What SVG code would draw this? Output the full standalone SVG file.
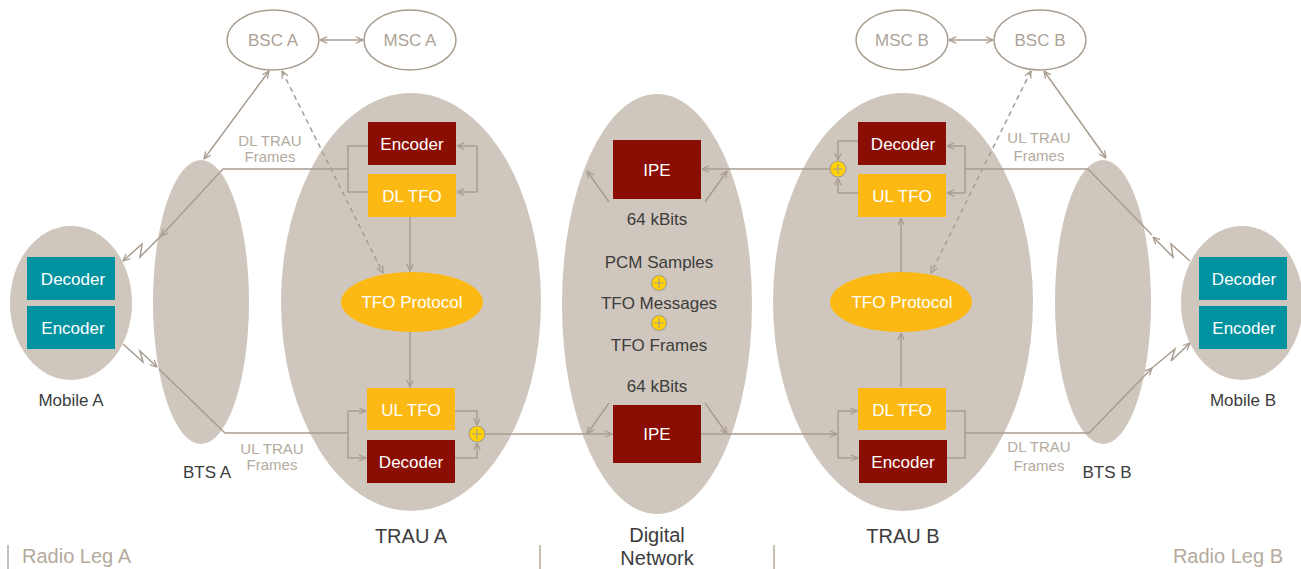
<svg xmlns="http://www.w3.org/2000/svg" width="1301" height="569" viewBox="0 0 1301 569">
<defs>
<style>
.bg{fill:#CFC7BD}
.oval{fill:#fff;stroke:#A89D90;stroke-width:1.5}
.red{fill:#8B0E04}
.yel{fill:#FDB913}
.teal{fill:#00939F}
.ln{fill:none;stroke:#A89D90;stroke-width:1.5}
.dash{stroke-dasharray:5 4}
.wt{font-family:"Liberation Sans",Arial,sans-serif;font-size:17px;fill:#fff;text-anchor:middle;dominant-baseline:central}
.gt{font-family:"Liberation Sans",Arial,sans-serif;font-size:17px;fill:#ADA296;text-anchor:middle;dominant-baseline:central}
.st{font-family:"Liberation Sans",Arial,sans-serif;font-size:15px;fill:#B4AA9E;text-anchor:middle;dominant-baseline:central}
.dt{font-family:"Liberation Sans",Arial,sans-serif;font-size:17px;fill:#3C3C3C;text-anchor:middle;dominant-baseline:central}
.lt{font-family:"Liberation Sans",Arial,sans-serif;font-size:20px;fill:#3C3C3C;text-anchor:middle;dominant-baseline:central}
.leg{font-family:"Liberation Sans",Arial,sans-serif;font-size:20px;fill:#B4AA9E;dominant-baseline:central}
.plus{fill:#FFD200;stroke:#A89D90;stroke-width:1.2}
.pl{stroke:#A89D90;stroke-width:1.2}
</style>
<marker id="ah" viewBox="0 0 8 8" refX="7.5" refY="4" markerWidth="8" markerHeight="8" markerUnits="userSpaceOnUse" orient="auto-start-reverse">
<path d="M0.5,0.8 L7.5,4 L0.5,7.2" fill="none" stroke="#A89D90" stroke-width="1.3"/>
</marker>
</defs>

<g id="mobileA"><ellipse class="bg" cx="71" cy="303" rx="61" ry="77"/>
<rect class="teal" x="27" y="257" width="88" height="43"/><text class="wt" x="73" y="279">Decoder</text>
<rect class="teal" x="27" y="306" width="88" height="43"/><text class="wt" x="73" y="328">Encoder</text>
<text class="dt" x="71" y="400">Mobile A</text></g>

<g id="btsA"><ellipse class="bg" cx="201" cy="302" rx="48" ry="142"/><text class="dt" x="207" y="472">BTS A</text></g>
<g id="trauA"><ellipse class="bg" cx="411" cy="302" rx="130" ry="209"/><text class="lt" x="411" y="536">TRAU A</text></g>
<g id="digital"><ellipse class="bg" cx="657" cy="304" rx="95" ry="210"/>
<text class="lt" x="657" y="535">Digital</text><text class="lt" x="657" y="558">Network</text></g>
<g id="trauB"><ellipse class="bg" cx="903" cy="302" rx="130" ry="209"/><text class="lt" x="903" y="536">TRAU B</text></g>
<g id="btsB"><ellipse class="bg" cx="1103" cy="302" rx="48" ry="142"/><text class="dt" x="1107" y="472">BTS B</text></g>
<g id="mobileB"><ellipse class="bg" cx="1242" cy="303" rx="61" ry="77"/>
<rect class="teal" x="1199" y="257" width="88" height="43"/><text class="wt" x="1244" y="279">Decoder</text>
<rect class="teal" x="1199" y="306" width="88" height="43"/><text class="wt" x="1244" y="328">Encoder</text>
<text class="dt" x="1243" y="400">Mobile B</text></g>

<g id="bscA"><ellipse class="oval" cx="273" cy="40" rx="46" ry="30"/><text class="gt" x="273" y="40">BSC A</text></g>
<g id="mscA"><ellipse class="oval" cx="410" cy="40" rx="46" ry="30"/><text class="gt" x="410" y="40">MSC A</text></g>
<g id="mscB"><ellipse class="oval" cx="902" cy="40" rx="46" ry="30"/><text class="gt" x="902" y="40">MSC B</text></g>
<g id="bscB"><ellipse class="oval" cx="1040" cy="40" rx="46" ry="30"/><text class="gt" x="1040" y="40">BSC B</text></g>

<g id="encA"><rect class="red" x="368" y="122" width="88" height="43"/><text class="wt" x="412" y="144">Encoder</text></g>
<g id="dltfoA"><rect class="yel" x="368" y="174" width="88" height="43"/><text class="wt" x="412" y="196">DL TFO</text></g>
<g id="tfoA"><ellipse class="yel" cx="412" cy="302" rx="71" ry="30"/><text class="wt" x="412" y="302">TFO Protocol</text></g>
<g id="ultfoA"><rect class="yel" x="367" y="388" width="88" height="42"/><text class="wt" x="411" y="410">UL TFO</text></g>
<g id="decA"><rect class="red" x="367" y="440" width="88" height="43"/><text class="wt" x="411" y="462">Decoder</text></g>

<g id="ipeTop"><rect class="red" x="613" y="140" width="88" height="59"/><text class="wt" x="657" y="170">IPE</text></g>
<g id="ipeBot"><rect class="red" x="613" y="405" width="88" height="58"/><text class="wt" x="657" y="434">IPE</text></g>
<g id="dnText">
<text class="dt" x="657" y="219">64 kBits</text>
<text class="dt" x="659" y="262">PCM Samples</text>
<text class="dt" x="659" y="303">TFO Messages</text>
<text class="dt" x="659" y="345">TFO Frames</text>
<text class="dt" x="657" y="386">64 kBits</text>
</g>

<g id="decB"><rect class="red" x="858" y="122" width="88" height="43"/><text class="wt" x="903" y="144">Decoder</text></g>
<g id="ultfoB"><rect class="yel" x="858" y="174" width="88" height="43"/><text class="wt" x="902" y="196">UL TFO</text></g>
<g id="tfoB"><ellipse class="yel" cx="901" cy="302" rx="71" ry="30"/><text class="wt" x="902" y="302">TFO Protocol</text></g>
<g id="dltfoB"><rect class="yel" x="858" y="388" width="88" height="42"/><text class="wt" x="902" y="410">DL TFO</text></g>
<g id="encB"><rect class="red" x="859" y="440" width="88" height="43"/><text class="wt" x="903" y="462">Encoder</text></g>

<g id="connectors">
<line class="ln" x1="320" y1="40" x2="363" y2="40" marker-start="url(#ah)" marker-end="url(#ah)"/>
<line class="ln" x1="949" y1="40" x2="993" y2="40" marker-start="url(#ah)" marker-end="url(#ah)"/>
<line class="ln" x1="269" y1="71" x2="204" y2="159" marker-start="url(#ah)" marker-end="url(#ah)"/>
<line class="ln" x1="1044" y1="71" x2="1106" y2="158" marker-start="url(#ah)" marker-end="url(#ah)"/>
<line class="ln dash" x1="282" y1="71" x2="383" y2="273" marker-start="url(#ah)" marker-end="url(#ah)"/>
<line class="ln dash" x1="1031" y1="71" x2="931" y2="273" marker-start="url(#ah)" marker-end="url(#ah)"/>

<polyline class="ln" points="368,146 348,146 348,192 368,192"/>
<polyline class="ln" points="348,169 223,169 161,236" marker-end="url(#ah)"/>
<polyline class="ln" points="161,236 140,257 142,244 123,261" marker-end="url(#ah)"/>
<line class="ln" x1="477" y1="146" x2="477" y2="192"/>
<line class="ln" x1="477" y1="146" x2="457" y2="146" marker-end="url(#ah)"/>
<line class="ln" x1="477" y1="192" x2="457" y2="192" marker-end="url(#ah)"/>
<line class="ln" x1="410" y1="217" x2="410" y2="271" marker-end="url(#ah)"/>
<line class="ln" x1="410" y1="332" x2="410" y2="387" marker-end="url(#ah)"/>

<polyline class="ln" points="123,344 143,362 140,351 157,367" marker-end="url(#ah)"/>
<polyline class="ln" points="159,369 225,433 348,433"/>
<line class="ln" x1="348" y1="411" x2="348" y2="458"/>
<line class="ln" x1="348" y1="411" x2="366" y2="411" marker-end="url(#ah)"/>
<line class="ln" x1="348" y1="458" x2="366" y2="458" marker-end="url(#ah)"/>
<polyline class="ln" points="455,411 477,411 477,425" marker-end="url(#ah)"/>
<polyline class="ln" points="455,458 477,458 477,443" marker-end="url(#ah)"/>
<line class="ln" x1="485" y1="434" x2="612" y2="434" marker-end="url(#ah)"/>

<line class="ln" x1="609" y1="202" x2="587" y2="171" marker-end="url(#ah)"/>
<line class="ln" x1="705" y1="202" x2="727" y2="171" marker-end="url(#ah)"/>
<line class="ln" x1="609" y1="403" x2="587" y2="434" marker-end="url(#ah)"/>
<line class="ln" x1="705" y1="403" x2="727" y2="434" marker-end="url(#ah)"/>

<polyline class="ln" points="1190,261 1171,244 1173,257 1153,237" marker-end="url(#ah)"/>
<polyline class="ln" points="1152,235 1088,169 965,169"/>
<line class="ln" x1="965" y1="146" x2="965" y2="193"/>
<line class="ln" x1="965" y1="146" x2="947" y2="146" marker-end="url(#ah)"/>
<line class="ln" x1="965" y1="193" x2="947" y2="193" marker-end="url(#ah)"/>
<polyline class="ln" points="858,141 838,141 838,160" marker-end="url(#ah)"/>
<polyline class="ln" points="858,193 838,193 838,178" marker-end="url(#ah)"/>
<line class="ln" x1="830" y1="169" x2="702" y2="169" marker-end="url(#ah)"/>
<line class="ln" x1="901" y1="272" x2="901" y2="218" marker-end="url(#ah)"/>
<line class="ln" x1="901" y1="387" x2="901" y2="333" marker-end="url(#ah)"/>

<line class="ln" x1="701" y1="434" x2="837" y2="434" marker-end="url(#ah)"/>
<line class="ln" x1="838" y1="411" x2="838" y2="458"/>
<line class="ln" x1="838" y1="411" x2="857" y2="411" marker-end="url(#ah)"/>
<line class="ln" x1="838" y1="458" x2="858" y2="458" marker-end="url(#ah)"/>
<polyline class="ln" points="946,411 965,411 965,458 947,458"/>
<polyline class="ln" points="965,433 1089,433 1152,368" marker-end="url(#ah)"/>
<polyline class="ln" points="1152,368 1175,349 1171,361 1190,343" marker-end="url(#ah)"/>

<circle class="plus" cx="477" cy="434" r="8"/><path class="pl" d="M472,434 H482 M477,429 V439"/>
<circle class="plus" cx="838" cy="169" r="8"/><path class="pl" d="M833,169 H843 M838,164 V174"/>
<circle class="plus" cx="659" cy="283" r="7.5"/><path class="pl" d="M654,283 H664 M659,278 V288"/>
<circle class="plus" cx="659" cy="323" r="7.5"/><path class="pl" d="M654,323 H664 M659,318 V328"/>
</g>

<g id="labels">
<text class="st" x="270" y="140">DL TRAU</text><text class="st" x="270" y="156">Frames</text>
<text class="st" x="272" y="448">UL TRAU</text><text class="st" x="272" y="464">Frames</text>
<text class="st" x="1039" y="137">UL TRAU</text><text class="st" x="1039" y="155">Frames</text>
<text class="st" x="1039" y="446">DL TRAU</text><text class="st" x="1039" y="465">Frames</text>
<line x1="8" y1="545" x2="8" y2="569" stroke="#B4AA9E" stroke-width="1.5"/>
<line x1="540" y1="545" x2="540" y2="569" stroke="#B4AA9E" stroke-width="1.5"/>
<line x1="774" y1="545" x2="774" y2="569" stroke="#B4AA9E" stroke-width="1.5"/>
<text class="leg" x="22" y="556">Radio Leg A</text>
<text class="leg" x="1283" y="556" text-anchor="end">Radio Leg B</text>
</g>
</svg>
